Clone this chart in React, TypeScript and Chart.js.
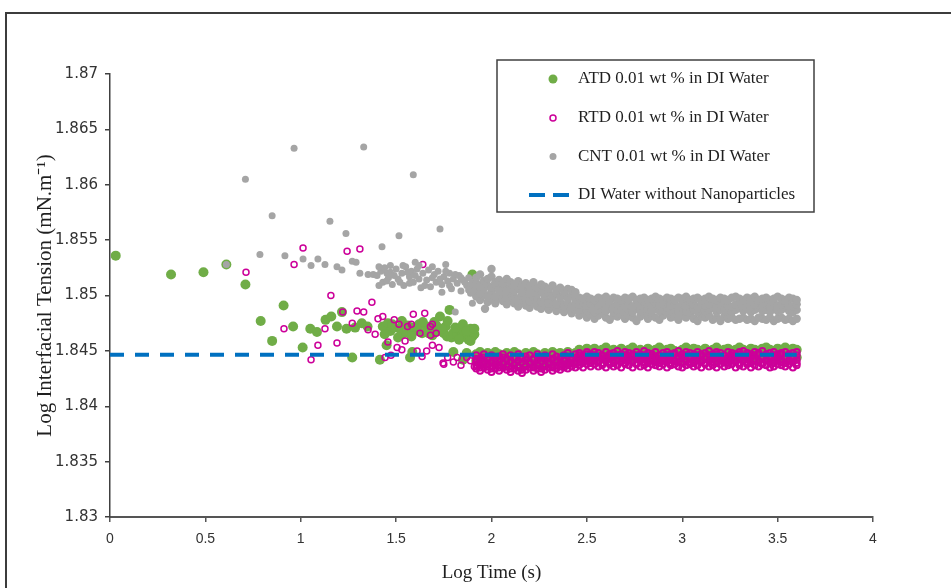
import { useEffect, useRef } from "react";
import { Chart, registerables } from "chart.js";

Chart.register(...registerables);

// ---------- DATA ----------
const seriesLabels = [
  "ATD 0.01 wt % in DI Water",
  "RTD 0.01 wt % in DI Water",
  "CNT 0.01 wt % in DI Water",
  "DI Water without Nanoparticles",
];
const xTitle = "Log Time (s)";
const yTitle = "Log Interfacial Tension (mN.m\u207B\u00B9)";

// sparse early readings [log t, log IFT]
const atdEarly: [number, number][] = [
  [0.03, 1.8536], [0.32, 1.8519], [0.49, 1.8521], [0.61, 1.8528], [0.71, 1.851], [0.79, 1.8477], [0.85, 1.8459], [0.91, 1.8491], [0.96, 1.8472], [1.01, 1.8453],
  [1.05, 1.847], [1.085, 1.8467], [1.13, 1.8478], [1.16, 1.8481], [1.19, 1.8472], [1.216, 1.8485], [1.24, 1.847], [1.27, 1.8444], [1.285, 1.8471], [1.32, 1.8475],
  [1.35, 1.8472], [1.415, 1.8442], [1.43, 1.8472], [1.45, 1.8455], [1.457, 1.8475], [1.47, 1.8468], [1.49, 1.8471], [1.52, 1.847], [1.54, 1.8466], [1.557, 1.8467],
  [1.573, 1.8444], [1.585, 1.8449], [1.59, 1.8471], [1.6, 1.8468], [1.62, 1.8474], [1.636, 1.8466], [1.66, 1.8472], [1.68, 1.847], [1.69, 1.8464], [1.7, 1.8476],
  [1.72, 1.8468], [1.73, 1.8481], [1.75, 1.8466], [1.76, 1.8472], [1.767, 1.8463], [1.78, 1.8487], [1.79, 1.8462], [1.8, 1.8466], [1.8, 1.8449], [1.82, 1.8466],
  [1.835, 1.8469], [1.84, 1.8462], [1.85, 1.8442], [1.86, 1.8465], [1.87, 1.8448], [1.88, 1.846], [1.887, 1.8467], [1.89, 1.847], [1.9, 1.8463], [1.9, 1.8519], [1.91, 1.8465],
  [1.44, 1.8465], [1.48, 1.8474], [1.51, 1.8462], [1.53, 1.8477], [1.56, 1.8473], [1.58, 1.8463], [1.61, 1.847], [1.64, 1.8476], [1.67, 1.8466], [1.71, 1.8473],
  [1.74, 1.847], [1.77, 1.8477], [1.81, 1.8471], [1.83, 1.846], [1.85, 1.8474], [1.87, 1.8468], [1.89, 1.8459], [1.91, 1.847],
];

const rtdEarly: [number, number][] = [
  [0.713, 1.8521], [0.912, 1.847], [0.965, 1.8528], [1.012, 1.8543], [1.054, 1.8442], [1.09, 1.8455], [1.127, 1.847], [1.158, 1.85], [1.19, 1.8457], [1.22, 1.8485],
  [1.243, 1.854], [1.27, 1.8475], [1.295, 1.8486], [1.31, 1.8542], [1.33, 1.8485], [1.353, 1.8469], [1.373, 1.8494], [1.39, 1.8465], [1.405, 1.8479], [1.43, 1.8481],
  [1.442, 1.8444], [1.457, 1.8458], [1.473, 1.8446], [1.49, 1.8478], [1.505, 1.8453], [1.515, 1.8474], [1.53, 1.8451], [1.547, 1.8459], [1.56, 1.8472], [1.58, 1.8474],
  [1.59, 1.8483], [1.61, 1.845], [1.625, 1.8466], [1.636, 1.8445], [1.64, 1.8528], [1.65, 1.8484], [1.66, 1.845], [1.68, 1.8472], [1.68, 1.8464], [1.69, 1.8474],
  [1.69, 1.8455], [1.71, 1.8466], [1.725, 1.8453], [1.746, 1.8439], [1.75, 1.8438], [1.77, 1.8444], [1.8, 1.844], [1.82, 1.8444], [1.84, 1.8437], [1.87, 1.8444],
  [1.89, 1.8441], [1.91, 1.8436],
];

const cntEarly: [number, number][] = [
  [0.61, 1.8528], [0.71, 1.8605], [0.786, 1.8537], [0.85, 1.8572], [0.917, 1.8536], [0.965, 1.8633], [1.012, 1.8533], [1.054, 1.8527], [1.09, 1.8533], [1.127, 1.8528],
  [1.153, 1.8567], [1.19, 1.8526], [1.216, 1.8523], [1.237, 1.8556], [1.27, 1.8531], [1.29, 1.853], [1.31, 1.852], [1.33, 1.8634], [1.353, 1.8519], [1.38, 1.8519],
  [1.41, 1.8509], [1.426, 1.8544], [1.452, 1.852], [1.515, 1.8554], [1.536, 1.8527], [1.59, 1.8609], [1.6, 1.853], [1.69, 1.8526], [1.73, 1.856], [1.76, 1.8528],
  [1.81, 1.8485], [1.9, 1.8493], [1.966, 1.8488], [2.0, 1.8524],
  [1.4, 1.8518], [1.42, 1.8522], [1.43, 1.8512], [1.44, 1.8525], [1.46, 1.8516], [1.47, 1.8521], [1.48, 1.851], [1.5, 1.8524], [1.51, 1.8515], [1.53, 1.852],
  [1.54, 1.8509], [1.55, 1.8526], [1.57, 1.8517], [1.58, 1.8522], [1.59, 1.8512], [1.61, 1.8524], [1.62, 1.8515], [1.63, 1.8507], [1.64, 1.852], [1.66, 1.8514],
  [1.67, 1.8523], [1.68, 1.8508], [1.7, 1.8519], [1.71, 1.8512], [1.72, 1.8522], [1.74, 1.851], [1.75, 1.8517], [1.77, 1.8513], [1.78, 1.852], [1.79, 1.8506],
  [1.8, 1.8515], [1.82, 1.8511], [1.83, 1.8518], [1.84, 1.8504], [1.85, 1.8514], [1.87, 1.8509], [1.88, 1.8516], [1.89, 1.8502], [1.9, 1.8512], [1.91, 1.8507],
  [1.41, 1.8526], [1.45, 1.8513], [1.49, 1.8518], [1.52, 1.8512], [1.56, 1.8521], [1.6, 1.8518], [1.65, 1.8509], [1.69, 1.8516], [1.73, 1.8515], [1.76, 1.8522],
  [1.78, 1.8509], [1.81, 1.8519], [1.86, 1.8512], [1.89, 1.851], [1.47, 1.8527], [1.57, 1.8511], [1.62, 1.8527], [1.74, 1.8503], [1.84, 1.8516], [1.88, 1.8505],
];

// dense late readings: shared log-time columns, several readings per column
const bandX = [
  1.92, 1.94, 1.96, 1.98, 2.0, 2.02, 2.04, 2.06, 2.08, 2.1,
  2.12, 2.14, 2.16, 2.18, 2.2, 2.22, 2.24, 2.26, 2.28, 2.3,
  2.32, 2.34, 2.36, 2.38, 2.4, 2.42, 2.44, 2.46, 2.48, 2.5,
  2.52, 2.54, 2.56, 2.58, 2.6, 2.62, 2.64, 2.66, 2.68, 2.7,
  2.72, 2.74, 2.76, 2.78, 2.8, 2.82, 2.84, 2.86, 2.88, 2.9,
  2.92, 2.94, 2.96, 2.98, 3.0, 3.02, 3.04, 3.06, 3.08, 3.1,
  3.12, 3.14, 3.16, 3.18, 3.2, 3.22, 3.24, 3.26, 3.28, 3.3,
  3.32, 3.34, 3.36, 3.38, 3.4, 3.42, 3.44, 3.46, 3.48, 3.5,
  3.52, 3.54, 3.56, 3.58, 3.6,
];

const atdBandA = [
  1.8447, 1.8449, 1.8446, 1.8448, 1.8445, 1.8449, 1.8447, 1.8445, 1.8448, 1.8446,
  1.8449, 1.8447, 1.8445, 1.8448, 1.8446, 1.8449, 1.8447, 1.8445, 1.8448, 1.8446,
  1.8449, 1.8447, 1.8448, 1.8446, 1.8449, 1.8447, 1.8448, 1.8451, 1.8449, 1.8452,
  1.845, 1.8452, 1.8449, 1.8451, 1.8453, 1.845, 1.8451, 1.8449, 1.8452, 1.845,
  1.8451, 1.8453, 1.845, 1.8451, 1.8449, 1.8452, 1.845, 1.8451, 1.8453, 1.845,
  1.8451, 1.8452, 1.845, 1.8449, 1.8451, 1.8453, 1.845, 1.8452, 1.8451, 1.845,
  1.8452, 1.845, 1.8451, 1.8453, 1.845, 1.8451, 1.8452, 1.845, 1.8451, 1.8453,
  1.8451, 1.845, 1.8452, 1.8451, 1.845, 1.8452, 1.8453, 1.8451, 1.845, 1.8452,
  1.8451, 1.8453, 1.845, 1.8452, 1.8451,
];
const atdBandB = [
  1.8441, 1.8439, 1.8442, 1.844, 1.8443, 1.8439, 1.8441, 1.8442, 1.844, 1.8443,
  1.844, 1.8442, 1.8439, 1.8441, 1.8443, 1.844, 1.8442, 1.8439, 1.8441, 1.8442,
  1.844, 1.8442, 1.8441, 1.8443, 1.844, 1.8442, 1.8441, 1.8444, 1.8443, 1.8445,
  1.8444, 1.8443, 1.8445, 1.8444, 1.8442, 1.8445, 1.8443, 1.8444, 1.8445, 1.8443,
  1.8444, 1.8442, 1.8445, 1.8443, 1.8444, 1.8445, 1.8443, 1.8442, 1.8444, 1.8445,
  1.8443, 1.8444, 1.8442, 1.8445, 1.8443, 1.8444, 1.8445, 1.8443, 1.8444, 1.8442,
  1.8445, 1.8443, 1.8444, 1.8442, 1.8445, 1.8444, 1.8443, 1.8445, 1.8442, 1.8444,
  1.8443, 1.8445, 1.8444, 1.8442, 1.8443, 1.8445, 1.8444, 1.8443, 1.8442, 1.8444,
  1.8445, 1.8443, 1.8444, 1.8442, 1.8444,
];

const rtdBandA = [
  1.8446, 1.8443, 1.8447, 1.8444, 1.8446, 1.8442, 1.8445, 1.8447, 1.8443, 1.8446,
  1.8444, 1.8447, 1.8443, 1.8445, 1.8446, 1.8442, 1.8447, 1.8444, 1.8446, 1.8443,
  1.8447, 1.8445, 1.8443, 1.8446, 1.8448, 1.8444, 1.8447, 1.8448, 1.8446, 1.8449,
  1.8447, 1.8449, 1.8448, 1.8446, 1.8449, 1.8447, 1.8448, 1.845, 1.8447, 1.8449,
  1.8448, 1.8446, 1.8449, 1.8447, 1.845, 1.8448, 1.8447, 1.8449, 1.8446, 1.8448,
  1.8449, 1.8447, 1.8448, 1.845, 1.8447, 1.8449, 1.8448, 1.8446, 1.8449, 1.8447,
  1.8448, 1.845, 1.8447, 1.8449, 1.8448, 1.8446, 1.8449, 1.8448, 1.8447, 1.8449,
  1.845, 1.8448, 1.8447, 1.8449, 1.8448, 1.845, 1.8447, 1.8448, 1.8449, 1.8447,
  1.8448, 1.8449, 1.8447, 1.8448, 1.8449,
];
const rtdBandD = [
  1.8443, 1.8441, 1.8444, 1.8442, 1.844, 1.8443, 1.8441, 1.8444, 1.8442, 1.844,
  1.8443, 1.8441, 1.8444, 1.8442, 1.844, 1.8443, 1.8441, 1.8444, 1.8442, 1.844,
  1.8443, 1.8441, 1.8444, 1.8442, 1.8445, 1.8443, 1.8444, 1.8446, 1.8445, 1.8447,
  1.8445, 1.8446, 1.8444, 1.8446, 1.8445, 1.8447, 1.8445, 1.8446, 1.8444, 1.8446,
  1.8445, 1.8447, 1.8446, 1.8444, 1.8446, 1.8445, 1.8447, 1.8445, 1.8446, 1.8444,
  1.8446, 1.8445, 1.8447, 1.8445, 1.8444, 1.8446, 1.8445, 1.8447, 1.8446, 1.8445,
  1.8444, 1.8446, 1.8445, 1.8447, 1.8445, 1.8446, 1.8444, 1.8446, 1.8445, 1.8447,
  1.8445, 1.8446, 1.8444, 1.8446, 1.8447, 1.8445, 1.8446, 1.8444, 1.8446, 1.8445,
  1.8447, 1.8445, 1.8446, 1.8444, 1.8446,
];
const rtdBandB = [
  1.844, 1.8437, 1.8441, 1.8438, 1.8436, 1.844, 1.8437, 1.8439, 1.8436, 1.8441,
  1.8438, 1.8436, 1.844, 1.8437, 1.8439, 1.8436, 1.8438, 1.8441, 1.8437, 1.8439,
  1.8436, 1.844, 1.8438, 1.8441, 1.8439, 1.8442, 1.844, 1.8443, 1.8441, 1.8444,
  1.8442, 1.8444, 1.8441, 1.8443, 1.8442, 1.8444, 1.8441, 1.8443, 1.8444, 1.8442,
  1.8443, 1.8441, 1.8444, 1.8442, 1.8443, 1.8441, 1.8444, 1.8442, 1.8443, 1.8441,
  1.8444, 1.8442, 1.8441, 1.8443, 1.8444, 1.8442, 1.8443, 1.8441, 1.8444, 1.8442,
  1.8443, 1.8441, 1.8442, 1.8444, 1.8442, 1.8443, 1.8441, 1.8444, 1.8442, 1.8443,
  1.8441, 1.8443, 1.8444, 1.8442, 1.8441, 1.8443, 1.8442, 1.8444, 1.8441, 1.8443,
  1.8442, 1.8444, 1.8441, 1.8443, 1.8442,
];
const rtdBandE = [
  1.8437, 1.8435, 1.8438, 1.8436, 1.8434, 1.8437, 1.8435, 1.8438, 1.8436, 1.8434,
  1.8437, 1.8435, 1.8433, 1.8436, 1.8438, 1.8435, 1.8437, 1.8434, 1.8436, 1.8438,
  1.8435, 1.8437, 1.8436, 1.8438, 1.8437, 1.8439, 1.8438, 1.844, 1.8439, 1.8441,
  1.8439, 1.8441, 1.844, 1.8439, 1.8441, 1.844, 1.8439, 1.8441, 1.844, 1.8439,
  1.8441, 1.844, 1.8439, 1.8441, 1.844, 1.8439, 1.8441, 1.844, 1.8439, 1.8441,
  1.844, 1.8439, 1.8441, 1.844, 1.8439, 1.8441, 1.844, 1.8439, 1.8441, 1.844,
  1.8439, 1.8441, 1.844, 1.8439, 1.8441, 1.844, 1.8439, 1.8441, 1.844, 1.8439,
  1.8441, 1.844, 1.8439, 1.8441, 1.844, 1.8439, 1.8441, 1.844, 1.8439, 1.8441,
  1.844, 1.8439, 1.8441, 1.844, 1.8439,
];
const rtdBandC = [
  1.8434, 1.8432, 1.8435, 1.8433, 1.8431, 1.8434, 1.8432, 1.8435, 1.8433, 1.8431,
  1.8434, 1.8432, 1.843, 1.8433, 1.8435, 1.8432, 1.8434, 1.8431, 1.8433, 1.8435,
  1.8432, 1.8434, 1.8433, 1.8435, 1.8434, 1.8436, 1.8435, 1.8437, 1.8435, 1.8438,
  1.8436, 1.8438, 1.8436, 1.8437, 1.8435, 1.8438, 1.8436, 1.8437, 1.8435, 1.8438,
  1.8437, 1.8435, 1.8438, 1.8436, 1.8437, 1.8435, 1.8438, 1.8437, 1.8436, 1.8438,
  1.8435, 1.8437, 1.8438, 1.8436, 1.8435, 1.8437, 1.8438, 1.8436, 1.8437, 1.8435,
  1.8438, 1.8436, 1.8437, 1.8435, 1.8438, 1.8436, 1.8437, 1.8438, 1.8435, 1.8437,
  1.8436, 1.8438, 1.8435, 1.8437, 1.8436, 1.8438, 1.8437, 1.8435, 1.8436, 1.8438,
  1.8437, 1.8436, 1.8438, 1.8435, 1.8437,
];

const cntBandA = [
  1.8516, 1.8519, 1.8513, 1.8515, 1.8517, 1.8512, 1.8514, 1.8511, 1.8515, 1.8512,
  1.851, 1.8513, 1.8509, 1.8511, 1.8508, 1.8512, 1.8507, 1.851, 1.8508, 1.8506,
  1.8509, 1.8505, 1.8507, 1.8504, 1.8506, 1.8505, 1.8503, 1.8498, 1.8497, 1.8499,
  1.8497, 1.8496, 1.8498, 1.8497, 1.8499, 1.8496, 1.8498, 1.8497, 1.8496, 1.8498,
  1.8497, 1.8499, 1.8496, 1.8497, 1.8498, 1.8496, 1.8497, 1.8499, 1.8497, 1.8496,
  1.8498, 1.8497, 1.8496, 1.8498, 1.8497, 1.8499, 1.8496, 1.8497, 1.8498, 1.8496,
  1.8497, 1.8499, 1.8497, 1.8496, 1.8498, 1.8497, 1.8496, 1.8498, 1.8499, 1.8497,
  1.8496, 1.8498, 1.8497, 1.8499, 1.8496, 1.8497, 1.8498, 1.8496, 1.8497, 1.8499,
  1.8497, 1.8496, 1.8498, 1.8497, 1.8496,
];
const cntBandB = [
  1.8511, 1.8508, 1.8512, 1.8509, 1.8507, 1.851, 1.8506, 1.8509, 1.8505, 1.8508,
  1.8504, 1.8507, 1.8503, 1.8506, 1.8502, 1.8505, 1.8501, 1.8504, 1.85, 1.8503,
  1.8499, 1.8502, 1.8498, 1.8501, 1.8497, 1.85, 1.8496, 1.8492, 1.8494, 1.8491,
  1.8493, 1.849, 1.8492, 1.8494, 1.8491, 1.8493, 1.849, 1.8492, 1.8494, 1.8491,
  1.8492, 1.849, 1.8493, 1.8491, 1.8494, 1.8492, 1.849, 1.8493, 1.8491, 1.8492,
  1.8494, 1.8491, 1.8492, 1.849, 1.8493, 1.8491, 1.8494, 1.8492, 1.849, 1.8493,
  1.8491, 1.8492, 1.8494, 1.849, 1.8492, 1.8493, 1.8491, 1.849, 1.8492, 1.8494,
  1.8491, 1.8493, 1.849, 1.8492, 1.8494, 1.8491, 1.8492, 1.849, 1.8493, 1.8491,
  1.8492, 1.8494, 1.8491, 1.849, 1.8492,
];
const cntBandC = [
  1.8505, 1.8502, 1.8506, 1.85, 1.8503, 1.8499, 1.8504, 1.8501, 1.8498, 1.8502,
  1.8499, 1.8496, 1.85, 1.8497, 1.8495, 1.8499, 1.8496, 1.8494, 1.8497, 1.8493,
  1.8495, 1.8492, 1.8494, 1.8491, 1.8493, 1.849, 1.8492, 1.8487, 1.8489, 1.8486,
  1.8488, 1.8485, 1.8487, 1.8489, 1.8486, 1.8488, 1.8485, 1.8487, 1.8489, 1.8486,
  1.8487, 1.8485, 1.8488, 1.8486, 1.8489, 1.8487, 1.8485, 1.8488, 1.8486, 1.8487,
  1.8489, 1.8486, 1.8487, 1.8485, 1.8488, 1.8486, 1.8489, 1.8487, 1.8485, 1.8488,
  1.8486, 1.8487, 1.8489, 1.8485, 1.8487, 1.8488, 1.8486, 1.8485, 1.8487, 1.8489,
  1.8486, 1.8488, 1.8485, 1.8487, 1.8489, 1.8486, 1.8487, 1.8485, 1.8488, 1.8486,
  1.8487, 1.8489, 1.8486, 1.8485, 1.8487,
];
const cntBandD = [
  1.8499, 1.8496, 1.85, 1.8494, 1.8497, 1.8493, 1.8498, 1.8495, 1.8492, 1.8496,
  1.8493, 1.849, 1.8494, 1.8491, 1.8489, 1.8493, 1.849, 1.8488, 1.8491, 1.8487,
  1.849, 1.8486, 1.8489, 1.8485, 1.8488, 1.8484, 1.8487, 1.8482, 1.8484, 1.848,
  1.8483, 1.8479, 1.8482, 1.8484, 1.848, 1.8478, 1.8482, 1.8481, 1.8483, 1.8479,
  1.8482, 1.848, 1.8477, 1.8481, 1.8483, 1.8479, 1.8482, 1.848, 1.8478, 1.8482,
  1.8484, 1.848, 1.8481, 1.8478, 1.8482, 1.848, 1.8483, 1.8479, 1.8477, 1.8481,
  1.848, 1.8482, 1.8478, 1.848, 1.8477, 1.8481, 1.8479, 1.848, 1.8478, 1.8479,
  1.848, 1.8478, 1.8479, 1.8477, 1.848, 1.8479, 1.8478, 1.848, 1.8477, 1.8479,
  1.848, 1.8478, 1.8479, 1.8477, 1.8479,
];

// reference line (pure DI water)
const diX = [0, 3.6];
const diY = [1.84465, 1.84465];

const xMin = 0, xMax = 4, xStep = 0.5;
const yMin = 1.83, yMax = 1.87, yStep = 0.005;

// ---------- helpers ----------
const fromPairs = (p: [number, number][]) => p.map(([x, y]) => ({ x, y }));
const fromRows = (rows: number[][]) =>
  rows.flatMap((r) =>
    bandX.map((x, i) => ({ x, y: r[i] })).filter((p) => p.y !== undefined)
  );
const fmt = (v: number | string) => String(Number(Number(v).toFixed(3)));
const bandStart = bandX[0];

const COLORS = ["#70AD47", "#CC0099", "#A5A5A5", "#0070C0"];

const framePlugin = {
  id: "frame",
  beforeDraw(chart: any) {
    const ctx = chart.ctx;
    ctx.save();
    ctx.fillStyle = "#ffffff";
    ctx.fillRect(0, 0, chart.width, chart.height);
    ctx.strokeStyle = "#3c3c3c";
    ctx.lineWidth = 2;
    ctx.beginPath();
    ctx.moveTo(6, chart.height);
    ctx.lineTo(6, 13);
    ctx.lineTo(chart.width, 13);
    ctx.stroke();
    ctx.restore();
  },
};

const legendPlugin = {
  id: "boxLegend",
  afterDraw(chart: any) {
    const ctx = chart.ctx;
    const ds = chart.data.datasets;
    const left = 497, top = 60, w = 317, h = 152;
    ctx.save();
    ctx.fillStyle = "#ffffff";
    ctx.fillRect(left, top, w, h);
    ctx.strokeStyle = "#404040";
    ctx.lineWidth = 1.5;
    ctx.strokeRect(left, top, w, h);
    const rowsY = [79, 118, 156.5, 195];
    const mx = 553;
    ds.forEach((d: any, i: number) => {
      const y = rowsY[i];
      if (i === 3) {
        ctx.strokeStyle = d.borderColor;
        ctx.lineWidth = 4;
        ctx.beginPath();
        ctx.moveTo(529, y);
        ctx.lineTo(545, y);
        ctx.moveTo(553, y);
        ctx.lineTo(569, y);
        ctx.stroke();
      } else if (i === 1) {
        ctx.strokeStyle = d.pointBorderColor;
        ctx.lineWidth = 1.5;
        ctx.beginPath();
        ctx.arc(mx, y, 3, 0, Math.PI * 2);
        ctx.stroke();
      } else {
        ctx.fillStyle = d.pointBackgroundColor;
        ctx.beginPath();
        ctx.arc(mx, y, i === 0 ? 4.5 : 3.5, 0, Math.PI * 2);
        ctx.fill();
      }
      ctx.fillStyle = "#1f1f1f";
      ctx.font = '17px "Liberation Serif", "Times New Roman", serif';
      ctx.textBaseline = "middle";
      ctx.textAlign = "left";
      ctx.fillText(d.label, 578, y);
    });
    ctx.restore();
  },
};

function IFTChart() {
  const ref = useRef<HTMLCanvasElement | null>(null);
  useEffect(() => {
    if (!ref.current) return;
    const chart = new Chart(ref.current, {
      type: "scatter",
      data: {
        datasets: [
          {
            label: seriesLabels[0],
            data: [...fromPairs(atdEarly), ...fromRows([atdBandB, atdBandA])],
            pointRadius: 5,
            pointBackgroundColor: COLORS[0],
            pointBorderColor: COLORS[0],
            pointBorderWidth: 0,
            showLine: false,
            order: 4,
          },
          {
            label: seriesLabels[1],
            data: [...fromPairs(rtdEarly), ...fromRows([rtdBandC, rtdBandE, rtdBandB, rtdBandD, rtdBandA])],
            pointRadius: 3,
            pointBackgroundColor: "rgba(0,0,0,0)",
            pointBorderColor: COLORS[1],
            pointBorderWidth: (c: any) => (c.raw && c.raw.x >= bandStart ? 2 : 1.5),
            showLine: false,
            order: 3,
          },
          {
            label: seriesLabels[2],
            data: [...fromPairs(cntEarly), ...fromRows([cntBandD, cntBandC, cntBandB, cntBandA])],
            pointRadius: (c: any) => (c.raw && c.raw.x >= bandStart ? 4.2 : 3.5),
            pointBackgroundColor: COLORS[2],
            pointBorderColor: COLORS[2],
            pointBorderWidth: 0,
            showLine: false,
            order: 2,
          },
          {
            type: "line",
            label: seriesLabels[3],
            data: diX.map((x, i) => ({ x, y: diY[i] })),
            borderColor: COLORS[3],
            borderWidth: 4,
            borderDash: [14, 11],
            pointRadius: 0,
            showLine: true,
            fill: false,
            order: 1,
          } as any,
        ],
      },
      options: {
        responsive: false,
        animation: false,
        events: [],
        layout: { padding: { left: 0, top: 74, right: 78, bottom: 0 } },
        plugins: { legend: { display: false }, tooltip: { enabled: false } },
        scales: {
          x: {
            type: "linear",
            min: xMin,
            max: xMax,
            afterFit: (s: any) => {
              s.height = 71;
            },
            ticks: {
              stepSize: xStep,
              callback: (v: any) => fmt(v),
              color: "#333333",
              padding: 9,
              font: { family: '"Liberation Sans Narrow", "Liberation Sans", sans-serif', size: 14 },
            },
            grid: { display: true, drawOnChartArea: false, drawTicks: true, tickLength: 5, color: "#555555", lineWidth: 1.5 },
            border: { display: true, color: "#555555", width: 2 },
            title: {
              display: true,
              text: xTitle,
              color: "#1f1f1f",
              font: { family: '"Liberation Serif", "Times New Roman", serif', size: 19 },
              padding: { top: 0, bottom: 4 },
            },
          },
          y: {
            type: "linear",
            min: yMin,
            max: yMax,
            afterFit: (s: any) => {
              s.width = 110;
            },
            ticks: {
              stepSize: yStep,
              callback: (v: any) => fmt(v),
              color: "#333333",
              padding: 7,
              font: { family: '"DejaVu Sans", "Liberation Sans", sans-serif', size: 15 },
            },
            grid: { display: true, drawOnChartArea: false, drawTicks: true, tickLength: 5, color: "#404040", lineWidth: 1.5 },
            border: { display: true, color: "#404040", width: 1.5 },
            title: {
              display: true,
              text: yTitle,
              color: "#1f1f1f",
              font: { family: '"Liberation Serif", "Times New Roman", serif', size: 21 },
              padding: { top: 33, bottom: 0 },
            },
          },
        },
      },
      plugins: [framePlugin, legendPlugin],
    });
    return () => chart.destroy();
  }, []);
  return <canvas ref={ref} width={951} height={588} style={{ display: "block" }} />;
}

export default function App() {
  return (
    <div style={{ position: "fixed", left: 0, top: 0, width: 951, height: 588, background: "#fff" }}>
      <IFTChart />
    </div>
  );
}
